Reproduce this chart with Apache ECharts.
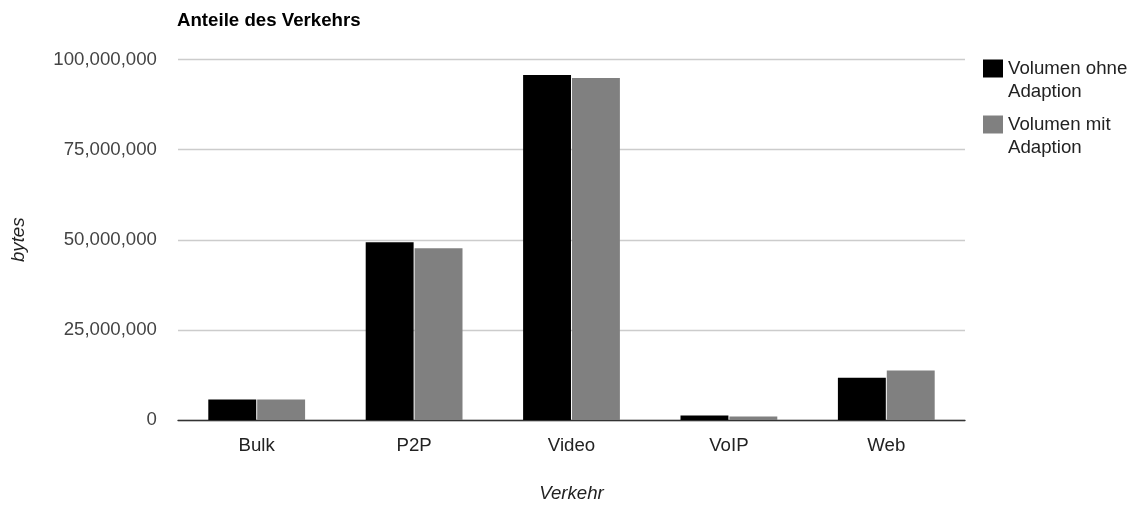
<!DOCTYPE html>
<html>
<head>
<meta charset="utf-8">
<script src="https://cdn.jsdelivr.net/npm/echarts@6/dist/echarts.min.js"></script>
<style>
  html, body { margin: 0; padding: 0; background: #fff; }
  #chart { width: 1145px; height: 508px; }
</style>
</head>
<body>
<div id="chart"></div>
<script>
// traffic categories
const categories = ['Bulk', 'P2P', 'Video', 'VoIP', 'Web'];

// bytes per category
const volumeWithout = [5700000, 49300000, 95700000, 1240000, 11700000];
const volumeWith = [5700000, 47650000, 94900000, 970000, 13700000];

const seriesNames = ['Volumen ohne Adaption', 'Volumen mit Adaption'];
const yTicks = [0, 25000000, 50000000, 75000000, 100000000];

const FONT = 'Arial, "Liberation Sans", sans-serif';
const FS = 18.67;

const chart = echarts.init(document.getElementById('chart'));

const option = {
  animation: false,
  title: {
    text: 'Anteile des Verkehrs',
    left: 172,
    top: 6,
    textStyle: {
      fontFamily: FONT,
      fontSize: FS,
      fontWeight: 'bold',
      color: '#000',
    },
  },
  legend: {
    orient: 'vertical',
    left: 983,
    top: 34,
    padding: 0,
    itemWidth: 20,
    itemHeight: 18,
    itemGap: -13,
    icon: 'rect',
    // blank first line so the wrapped label hangs below the icon's top
    formatter: (name) => '\n' + name.replace(' Adaption', '\nAdaption'),
    textStyle: {
      fontFamily: FONT,
      fontSize: FS,
      color: '#222',
      lineHeight: 23,
    },
  },
  grid: {
    left: 178,
    right: 180,
    top: 59.5,
    bottom: 86.5,
  },
  xAxis: {
    type: 'category',
    data: categories,
    name: 'Verkehr',
    nameLocation: 'middle',
    nameGap: 64,
    nameTextStyle: {
      fontFamily: FONT,
      fontSize: FS,
      fontStyle: 'italic',
      color: '#222',
    },
    axisLine: { lineStyle: { color: '#333', width: 1.33 } },
    axisTick: { show: false },
    axisLabel: {
      fontFamily: FONT,
      fontSize: FS,
      color: '#222',
      margin: 16,
    },
  },
  yAxis: {
    type: 'value',
    min: yTicks[0],
    max: yTicks[yTicks.length - 1],
    interval: yTicks[1] - yTicks[0],
    name: 'bytes',
    nameLocation: 'middle',
    nameGap: 150,
    nameTextStyle: {
      fontFamily: FONT,
      fontSize: FS,
      fontStyle: 'italic',
      color: '#222',
    },
    axisLine: { show: false },
    axisTick: { show: false },
    axisLabel: {
      fontFamily: FONT,
      fontSize: FS,
      color: '#444',
      margin: 21,
      formatter: (v) => v.toLocaleString('en-US'),
    },
    splitLine: { lineStyle: { color: '#ccc', width: 1.33 } },
  },
  series: [
    {
      name: seriesNames[0],
      type: 'bar',
      data: volumeWithout,
      itemStyle: { color: '#000' },
      barGap: '2%',
      barCategoryGap: '38.5%',
    },
    {
      name: seriesNames[1],
      type: 'bar',
      data: volumeWith,
      itemStyle: { color: '#808080' },
      barGap: '2%',
      barCategoryGap: '38.5%',
    },
  ],
};

chart.setOption(option);

window.addEventListener('resize', () => chart.resize());
</script>
</body>
</html>
